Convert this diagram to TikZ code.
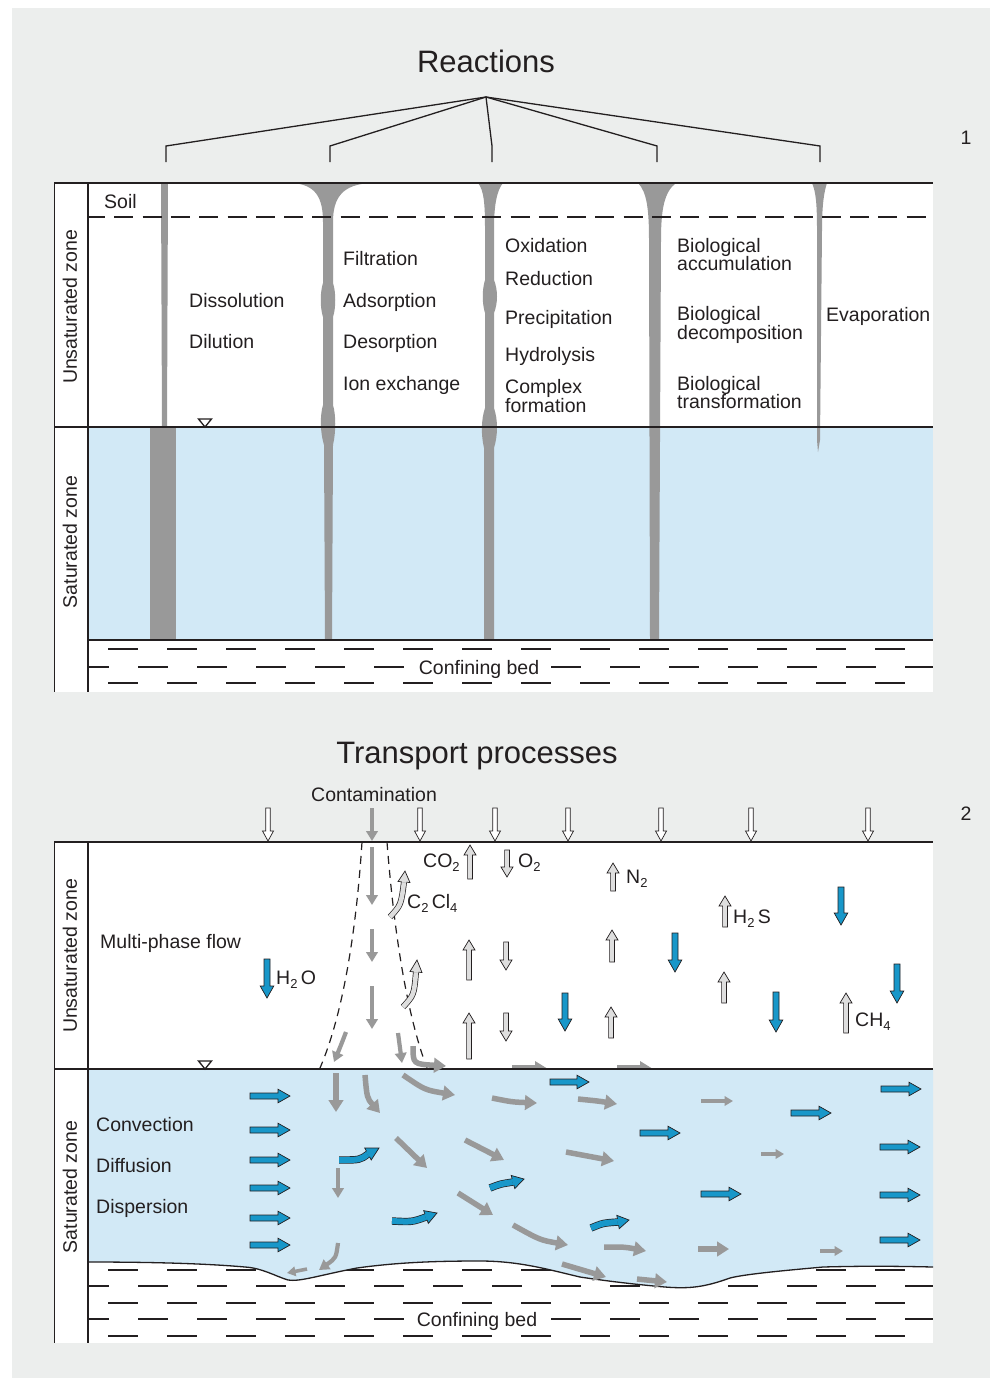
\documentclass[tikz,border=0pt]{standalone}
\usepackage{fontspec}
\setmainfont{Liberation Sans}
\usetikzlibrary{arrows.meta,calc}

\definecolor{panelbg}{RGB}{236,238,237}
\definecolor{water}{RGB}{210,233,246}
\definecolor{flowblue}{RGB}{24,151,201}
\definecolor{plume}{RGB}{153,153,153}
\definecolor{gasfill}{RGB}{222,222,222}
\definecolor{ink}{RGB}{35,31,32}

\newcommand{\chemsub}[1]{\raisebox{-4pt}{\fontsize{13}{13}\selectfont #1}}

% straight arrow with black outline: fill, tail, tip, shaft half-width, head half-width, head length
\newcommand{\outlinearrow}[6]{%
  \path (#2) coordinate (oa-t) (#3) coordinate (oa-h);
  \path ($(oa-h)!#6!(oa-t)$) coordinate (oa-b);
  \filldraw[fill=#1, draw=ink, line width=0.7pt, line join=miter]
    ($(oa-t)!#4!90:(oa-h)$) -- ($(oa-b)!#4!-90:(oa-t)$) -- ($(oa-b)!#5!-90:(oa-t)$) -- (oa-h)
    -- ($(oa-b)!#5!90:(oa-t)$) -- ($(oa-b)!#4!90:(oa-t)$) -- ($(oa-t)!#4!-90:(oa-h)$) -- cycle;}
\newcommand{\openarrow}[2]{\outlinearrow{white}{#1}{#2}{2.2pt}{5.5pt}{10pt}}
\newcommand{\gasarrow}[2]{\outlinearrow{gasfill}{#1}{#2}{2.4pt}{6pt}{10pt}}
\newcommand{\bluearrow}[2]{\outlinearrow{flowblue}{#1}{#2}{3pt}{6.8pt}{12pt}}

% curved arrow with black outline: fill, tail, control, head base, tip, shaft width, outline width, head half-width
\newcommand{\curvedarrow}[8]{%
  \draw[ink, line width=#7] (#2) .. controls (#3) .. (#4);
  \draw[#1, line width=#6] (#2) .. controls (#3) .. (#4);
  \filldraw[fill=#1, draw=ink, line width=0.7pt, line join=miter]
    ($(#4)!#8!90:(#5)$) -- (#5) -- ($(#4)!#8!-90:(#5)$) -- cycle;
  \draw[#1, line width=#6] ($(#4)!-0.6pt!(#5)$) -- ($(#4)!1pt!(#5)$);}

\tikzset{
  lbl/.style={font=\fontsize{19.5}{18.5}\selectfont, text=ink, inner sep=0pt, anchor=base west, align=left},
  ttl/.style={font=\fontsize{31}{31}\selectfont, text=ink, inner sep=0pt, anchor=base},
  zonelbl/.style={font=\fontsize{19.5}{19.5}\selectfont, text=ink, inner sep=0pt, anchor=center, rotate=90},
  bedlbl/.style={font=\fontsize{19.5}{19.5}\selectfont, text=ink, fill=white, inner xsep=5pt, inner ysep=1pt, anchor=base},
  frameline/.style={draw=ink, line width=1.5pt},
  bedrow/.style={draw=ink, line width=1.8pt, dash pattern=on 30pt off 29pt},
  soilline/.style={draw=ink, line width=1.6pt, dash pattern=on 19pt off 9.3pt, dash phase=2pt},
  plumeedge/.style={draw=ink, line width=1.2pt, dash pattern=on 8pt off 6pt},
  bracket/.style={draw=ink, line width=1.3pt},
  column/.style={fill=plume},
  gflow/.style={draw=plume, line width=5.5pt, -{Triangle[width=14.5pt,length=12pt]}},
  gsmall/.style={draw=plume, line width=3.5pt, -{Triangle[width=9.5pt,length=8.5pt]}},
  gdrop/.style={draw=plume, line width=4.2pt, -{Triangle[width=11.5pt,length=10pt]}},
  wtable/.style={fill=white, draw=ink, line width=1.3pt, line join=miter},
}

\begin{document}
\begin{tikzpicture}[x=1pt, y=-1pt]
\useasboundingbox (0,0) rectangle (990,1378);
\fill[white] (0,0) rectangle (990,1378);
\fill[panelbg] (12,8) rectangle (990,1378);

%% ---------------- Reactions ----------------
\node[ttl] (reactions) at (486,73) {Reactions};
\node[lbl, anchor=base] (num1) at (966,144) {1};
\coordinate (apex) at (486,97);
\foreach \x in {166,330,492,657,820}
  {\draw[bracket] (apex) -- (\x,146) -- (\x,162);}

\fill[white] (54,183) rectangle (933,692);
\fill[water] (88,427) rectangle (933,640);

% confining bed
\begin{scope}
\clip (88,630) rectangle (933,692);
\draw[bedrow, dash phase=39pt] (88,649) -- (933,649);
\draw[bedrow, dash phase=9pt]  (88,667) -- (933,667);
\draw[bedrow, dash phase=39pt] (88,683) -- (933,683);
\end{scope}
\node[bedlbl] (bed1) at (479,674) {Confining bed};

% reaction columns
\fill[column] (161,183) -- (168,183) -- (167,427) -- (162,427) -- cycle;
\fill[column] (150,427) rectangle (176,640);
\fill[column] (291,183) .. controls (316,184) and (323,198) .. (323,222) -- (323,283)
  .. controls (320,292) and (320,308) .. (323,317) -- (323,405)
  .. controls (320,415) and (320,432) .. (324,445) -- (325,640) -- (332,640) -- (333,445)
  .. controls (336,432) and (336,415) .. (333,405) -- (333,317)
  .. controls (336,308) and (336,292) .. (333,283) -- (333,222)
  .. controls (333,198) and (342,184) .. (372,183) -- cycle;
\fill[column] (478,183) .. controls (484,190) and (485,205) .. (485,228) -- (485,280)
  .. controls (482,290) and (482,303) .. (485,313) -- (485,408)
  .. controls (481,420) and (481,435) .. (484,448) -- (484,640) -- (494,640) -- (494,448)
  .. controls (498,435) and (498,420) .. (494,408) -- (494,313)
  .. controls (498,303) and (498,290) .. (494,280) -- (494,228)
  .. controls (494,205) and (497,190) .. (503,183) -- cycle;
\fill[column] (638,183) .. controls (647,192) and (649,210) .. (649,240) -- (650,640) -- (659,640)
  -- (661,240) .. controls (661,210) and (664,192) .. (676,183) -- cycle;
\fill[column] (812,183) .. controls (816,192) and (817,205) .. (817,230) -- (817,440) -- (818,452)
  -- (820,440) -- (822,230) .. controls (822,205) and (824,192) .. (827,183) -- cycle;

\draw[soilline] (88,217) -- (933,217);

\draw[frameline] (54,183) -- (933,183);
\draw[frameline] (54,427) -- (933,427);
\draw[frameline] (88,640) -- (933,640);
\draw[ink, line width=1pt] (54,183) -- (54,692);
\draw[frameline] (88,183) -- (88,692);
\draw[wtable] (198.5,419) -- (211.5,419) -- (205,427) -- cycle;

\node[zonelbl] (unsat1) at (70,307) {Unsaturated zone};
\node[zonelbl] (sat1) at (70,542) {Saturated zone};
\node[lbl] (soil) at (104,208) {Soil};
\node[lbl] (dissol) at (189,307) {Dissolution};
\node[lbl] (dilut) at (189,348) {Dilution};
\node[lbl] (filt) at (343,265) {Filtration};
\node[lbl] (adsorp) at (343,307) {Adsorption};
\node[lbl] (desorp) at (343,348) {Desorption};
\node[lbl] (ionex) at (343,390) {Ion exchange};
\node[lbl] (oxid) at (505,252) {Oxidation};
\node[lbl] (reduc) at (505,285) {Reduction};
\node[lbl] (precip) at (505,324) {Precipitation};
\node[lbl] (hydro) at (505,361) {Hydrolysis};
% two-line labels are placed by the baseline of their last line
\node[lbl] (complex) at (505,412) {Complex\\formation};
\node[lbl] (bioacc) at (677,270.5) {Biological\\accumulation};
\node[lbl] (biodec) at (677,339) {Biological\\decomposition};
\node[lbl] (biotr) at (677,408.5) {Biological\\transformation};
\node[lbl] (evap) at (826,321) {Evaporation};

%% ---------------- Transport processes ----------------
\node[ttl] (transport) at (477,763) {Transport processes};
\node[lbl, anchor=base] (num2) at (966,820) {2};
\node[lbl] (contam) at (311,801) {Contamination};

\fill[white] (54,842) rectangle (933,1343);
\begin{scope}
\clip (88,1262) rectangle (933,1343);
\draw[bedrow, dash phase=39pt] (88,1270) -- (933,1270);
\draw[bedrow, dash phase=9pt]  (88,1286) -- (933,1286);
\draw[bedrow, dash phase=39pt] (88,1303) -- (933,1303);
\draw[bedrow, dash phase=9pt]  (88,1319) -- (933,1319);
\draw[bedrow, dash phase=39pt] (88,1336) -- (933,1336);
\end{scope}
\node[bedlbl] (bed2) at (477,1326) {Confining bed};

% aquifer and its uneven base
\fill[water] (88,1069) -- (933,1069) -- (933,1267)
  .. controls (890,1266) and (860,1266) .. (823,1267)
  .. controls (790,1270) and (745,1274) .. (730,1278)
  .. controls (705,1287) and (690,1289) .. (665,1287)
  .. controls (630,1284) and (600,1280) .. (580,1277)
  .. controls (550,1270) and (520,1261) .. (480,1261)
  .. controls (440,1261) and (400,1262) .. (357,1268)
  .. controls (320,1275) and (300,1282) .. (288,1280)
  .. controls (275,1276) and (262,1268) .. (245,1267)
  .. controls (200,1263) and (140,1262) .. (88,1262) -- cycle;
\draw[ink, line width=1.3pt] (933,1267)
  .. controls (890,1266) and (860,1266) .. (823,1267)
  .. controls (790,1270) and (745,1274) .. (730,1278)
  .. controls (705,1287) and (690,1289) .. (665,1287)
  .. controls (630,1284) and (600,1280) .. (580,1277)
  .. controls (550,1270) and (520,1261) .. (480,1261)
  .. controls (440,1261) and (400,1262) .. (357,1268)
  .. controls (320,1275) and (300,1282) .. (288,1280)
  .. controls (275,1276) and (262,1268) .. (245,1267)
  .. controls (200,1263) and (140,1262) .. (88,1262);

% contamination plume
\draw[plumeedge] (362,842) .. controls (357,920) and (345,1010) .. (320,1068);
\draw[plumeedge] (387,842) .. controls (393,920) and (405,1010) .. (427,1068);

% gray flow arrows that reach the water table
\fill[plume] (512,1069) -- (512,1065) -- (535,1065) -- (535,1061) -- (548,1069) -- cycle;
\fill[plume] (617,1069) -- (617,1065) -- (640,1065) -- (640,1061) -- (653,1069) -- cycle;

\draw[frameline] (54,842) -- (933,842);
\draw[frameline] (54,1069) -- (933,1069);
\draw[ink, line width=1pt] (54,842) -- (54,1343);
\draw[frameline] (88,842) -- (88,1343);
\draw[wtable] (198.5,1061) -- (211.5,1061) -- (205,1069) -- cycle;

% infiltration from the surface
\foreach \x in {268,420,495,568,661,751,868}
  {\openarrow{\x,808}{\x,841}}
\draw[gdrop] (372,808) -- (372,841);

% plume inside the unsaturated zone
\draw[gdrop] (372,847) -- (372,905);
\draw[gdrop] (372,929) -- (372,962);
\draw[gdrop] (372,986) -- (372,1029);
\draw[gdrop] (346,1032) .. controls (341,1045) .. (334,1062);
\draw[gdrop] (398,1033) .. controls (400,1048) .. (402,1063);
\draw[gflow] (413,1046) .. controls (413,1064) .. (446,1066);

% gases and water in the unsaturated zone
\gasarrow{470,879}{470,845}
\gasarrow{507,850}{507,877}
\gasarrow{469,980}{469,940}
\gasarrow{469,1059}{469,1013}
\gasarrow{506,942}{506,970}
\gasarrow{506,1013}{506,1041}
\gasarrow{613,891}{613,863}
\gasarrow{612,962}{612,930}
\gasarrow{611,1038}{611,1007}
\gasarrow{725,927}{725,896}
\gasarrow{724,1003}{724,972}
\gasarrow{846,1033}{846,993}
\curvedarrow{gasfill}{390,917}{401,905}{404,882}{405,871}{4.6pt}{6pt}{6pt}
\curvedarrow{gasfill}{403,1007}{414,995}{416,972}{417,960}{4.6pt}{6pt}{6pt}

\bluearrow{267,959}{267,998}
\bluearrow{565,993}{565,1031}
\bluearrow{675,933}{675,972}
\bluearrow{776,992}{776,1032}
\bluearrow{841,887}{841,925}
\bluearrow{897,964}{897,1003}

\node[lbl] (co2) at (423,867) {CO\chemsub{2}};
\node[lbl] (o2) at (518,867) {O\chemsub{2}};
\node[lbl] (c2cl4) at (407,908) {C\chemsub{2}\,Cl\chemsub{4}};
\node[lbl] (h2o) at (276,984) {H\chemsub{2}\,O};
\node[lbl] (n2) at (626,883) {N\chemsub{2}};
\node[lbl] (h2s) at (733,923) {H\chemsub{2}\,S};
\node[lbl] (ch4) at (855,1026) {CH\chemsub{4}};
\node[lbl] (multi) at (100,948) {Multi-phase flow};

% groundwater flow
\foreach \y in {1096,1130,1160,1188,1218,1245}
  {\bluearrow{250,\y}{290,\y}}
\bluearrow{550,1082}{589,1082}
\bluearrow{640,1133}{680,1133}
\bluearrow{701,1194}{741,1194}
\bluearrow{791,1113}{831,1113}
\bluearrow{881,1089}{921,1089}
\bluearrow{880,1147}{920,1147}
\bluearrow{880,1195}{920,1195}
\bluearrow{880,1240}{920,1240}
\curvedarrow{flowblue}{339,1160}{360,1160}{368,1154}{379,1148}{6pt}{7.4pt}{6.8pt}
\curvedarrow{flowblue}{392,1221}{412,1222}{426,1217}{437,1213}{6pt}{7.4pt}{6.8pt}
\curvedarrow{flowblue}{490,1188}{500,1184}{513,1182}{524,1179}{6pt}{7.4pt}{6.8pt}
\curvedarrow{flowblue}{591,1228}{603,1223}{618,1222}{629,1220}{6pt}{7.4pt}{6.8pt}

% spreading of the contaminant in the aquifer
\draw[gflow] (336,1073) -- (336,1112);
\draw[gflow] (365,1075) .. controls (367,1098) .. (380,1113);
\draw[gflow] (403,1075) .. controls (425,1090) .. (455,1095);
\draw[gflow] (492,1098) .. controls (512,1102) .. (537,1103);
\draw[gflow] (578,1099) .. controls (598,1101) .. (617,1104);
\draw[gsmall] (701,1101) -- (733,1101);
\draw[gflow] (396,1138) -- (427,1168);
\draw[gflow] (465,1140) -- (504,1160);
\draw[gflow] (566,1152) -- (614,1161);
\draw[gsmall] (761,1154) -- (784,1154);
\draw[gdrop] (338,1168) -- (338,1198);
\draw[gflow] (458,1193) -- (493,1215);
\draw[gflow] (513,1225) .. controls (540,1240) .. (568,1245);
\draw[gflow] (604,1247) .. controls (625,1247) .. (646,1251);
\draw[gflow] (698,1249) -- (729,1249);
\draw[gsmall] (820,1251) -- (843,1251);
\draw[gflow] (562,1264) -- (606,1277);
\draw[gflow] (637,1279) -- (667,1282);
\draw[gdrop] (338,1243) .. controls (336,1258) .. (319,1270);
\draw[gsmall] (307,1269) -- (287,1273);

\node[zonelbl] (unsat2) at (70,956) {Unsaturated zone};
\node[zonelbl] (sat2) at (70,1187) {Saturated zone};
\node[lbl] (convec) at (96,1131) {Convection};
\node[lbl] (diffus) at (96,1172) {Diffusion};
\node[lbl] (dispers) at (96,1213) {Dispersion};
\end{tikzpicture}
\end{document}
